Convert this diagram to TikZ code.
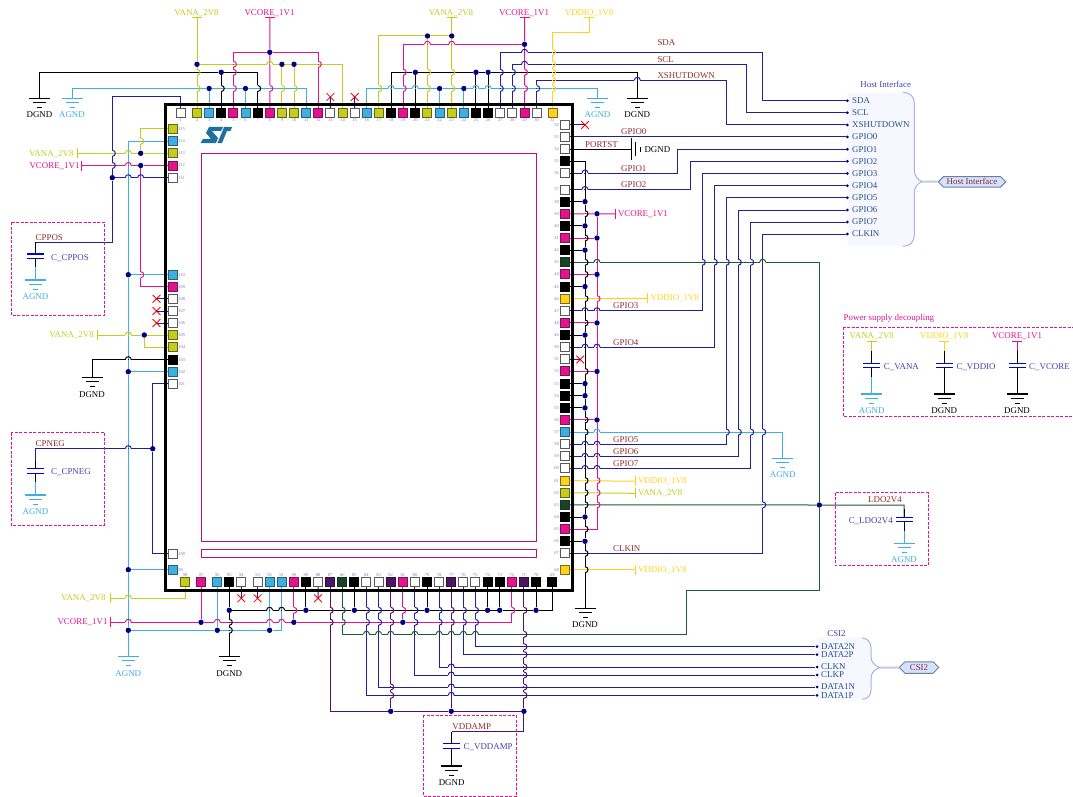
\documentclass[tikz,border=0pt]{standalone}
\usepackage{fontspec}
\setmainfont{Liberation Serif}
\usetikzlibrary{shapes.misc,shapes.symbols}
\definecolor{cvana}{HTML}{C4CC1E}
\definecolor{cvcore}{HTML}{E0148C}
\definecolor{cagnd}{HTML}{3FAEE0}
\definecolor{cvio}{HTML}{FFD21E}
\definecolor{csig}{HTML}{20209A}
\definecolor{cldo}{HTML}{1F5A32}
\definecolor{camp}{HTML}{4E1464}
\definecolor{cdot}{HTML}{000080}
\definecolor{cnet}{HTML}{942A2A}
\definecolor{chost}{HTML}{24508C}
\definecolor{cbus}{HTML}{A4B4E0}
\definecolor{chex}{HTML}{D2E2FF}
\definecolor{clogo}{HTML}{1F6F9F}
\tikzset{
  vana/.style={color=cvana,line width=1pt},
  vcore/.style={color=cvcore,line width=1pt},
  agnd/.style={color=cagnd,line width=1pt},
  dgnd/.style={color=black,line width=1pt},
  vio/.style={color=cvio,line width=1pt},
  sig/.style={color=csig,line width=1pt},
  ldo/.style={color=cldo,line width=1pt},
  amp/.style={color=camp,line width=1pt},
  lbl/.style={font=\fontsize{8.9}{10}\selectfont,inner sep=0pt},
  netl/.style={lbl,text=cnet},
  capl/.style={lbl,text=csig!85!white},
  hostl/.style={lbl,text=chost},
  pnum/.style={font=\fontsize{4.5}{5}\selectfont,text=csig!60!white,inner sep=0.4pt},
  pad/.style={rectangle,line width=1pt,minimum size=9pt,inner sep=0pt},
  padw/.style={pad,draw=gray!70!black,fill=white},
  padk/.style={pad,draw=black,fill=black},
  padm/.style={pad,draw=cvcore!60!black,fill=cvcore},
  padc/.style={pad,draw=cagnd!55!black,fill=cagnd},
  pady/.style={pad,draw=cvana!50!black,fill=cvana},
  padg/.style={pad,draw=cldo!60!black,fill=cldo!75!black},
  padp/.style={pad,draw=camp!60!black,fill=camp},
  pado/.style={pad,draw=cvio!50!black,fill=cvio},
  jdot/.style={circle,fill=cdot,inner sep=0pt,minimum size=5.4pt},
  tdot/.style={circle,fill=cdot,inner sep=0pt,minimum size=3pt},
  xmark/.style={cross out,draw=red,line width=0.8pt,minimum size=7pt,inner sep=0pt},
  dbox/.style={draw=cvcore,line width=1pt,dashed,dash pattern=on 3pt off 1.5pt},
  hexl/.style={signal,signal to=east and west,draw=cbus!70!black,line width=1pt,fill=chex,
    text=cnet,font=\fontsize{8.9}{10}\selectfont,inner sep=0pt},
  gndsym/.pic={
    \draw[line width=1.3pt] (-10.5,0) -- (10.5,0);
    \draw (-6.5,4) -- (6.5,4);
    \draw (-2.5,9) -- (2.5,9);
  },
  capsym/.pic={
    \coordinate (-t) at (0,-2.2);
    \coordinate (-b) at (0,2.2);
    \draw[color=blue!85!black,line width=1.1pt] (-8.5,-2.2) -- (8.5,-2.2);
    \draw[color=blue!85!black,line width=1.1pt] (-8.5,2.2) -- (8.5,2.2);
  },
}
\newcommand{\mkgnd}[5]{
  \coordinate (#1) at (#2,#3);
  \pic[#4] at (#1) {gndsym};
  \node[lbl,#4] (#1l) at ([yshift=-16.5pt]#1) {#5};
}
\newcommand{\tickh}[4]{
  \coordinate (#2) at (#3,#4);
  \draw[#1] ([xshift=-5pt]#2) -- ([xshift=5pt]#2);
}
\newcommand{\tickv}[4]{
  \coordinate (#2) at (#3,#4);
  \draw[#1] ([yshift=-5pt]#2) -- ([yshift=5pt]#2);
}
\newcommand{\hoph}[2]{\foreach \hx/\hy in {#2}{
  \begin{scope}[shift={(\hx |- \hy)}]
  \draw[white,line width=1.8pt] (-3,0) -- (-0.6,0) (0.6,0) -- (3,0);
  \draw[#1] (-3,0) .. controls (-3,-4) and (3,-4) .. (3,0);
  \end{scope}}}
\newcommand{\hopv}[2]{\foreach \hx/\hy in {#2}{
  \begin{scope}[shift={(\hx |- \hy)}]
  \draw[white,line width=1.8pt] (0,-3) -- (0,-0.6) (0,0.6) -- (0,3);
  \draw[#1] (0,-3) .. controls (4,-3) and (4,3) .. (0,3);
  \end{scope}}}
\begin{document}
\begin{tikzpicture}[x=1pt,y=-1pt]
\useasboundingbox (0,0) rectangle (1073,797);
\foreach \nm/\y in {36/36,44/44.3,52/52.3,64/64.3,72/72.3,80/80.3,88/88.5,610/610.3,622/622.3,630/630.3,634/634.3,711/711.3}
  \coordinate (l\nm) at (0,\y);
\coordinate (va) at (128.3,0);
\coordinate (vb) at (112.3,0);
\coordinate (vc) at (140.7,0);
\coordinate (rk) at (585,0);
\coordinate (rm) at (597,0);
\coordinate (v1) at (677.7,0);
\coordinate (v2) at (690,0);
\coordinate (v3) at (702.3,0);
\coordinate (v4) at (714.3,0);
\coordinate (v5) at (726.3,0);
\coordinate (v6) at (738.3,0);
\coordinate (v7) at (750.7,0);
\coordinate (vk) at (762.7,0);
\coordinate (vs2) at (746.7,0);

\foreach \n/\s in {2/pady,3/padc,4/padk,5/padm,6/padc,7/padk,8/padm,9/pady,10/pady,11/padc,12/padm,13/padw,14/pady,15/padw,16/padc,17/pady,18/padk,19/padm,20/padk,21/pady,22/padc,23/pady,24/padc,25/padk,26/padk,27/padw,28/padw,29/padm,30/padw}{
  \pgfmathsetmacro\px{197+12.13*(\n-2)}
  \node[\s,label={[pnum]below:\n}] (p\n) at (\px,113) {};
}
\node[padw,label={[pnum]below:1}] (p1) at (180.5,113) {};
\node[pado,label={[pnum]below:31}] (p31) at (552.5,113) {};
\foreach \n/\s/\py in {32/padw/125,33/padw/137,34/padw/149,35/padk/161,36/padw/173,68/pado/569.7}
  \node[\s,label={[pnum]left:\n}] (p\n) at (564.5,\py) {};
\foreach \n/\s in {37/padw,38/padk,39/padm,40/padk,41/padm,42/padk,43/padg,44/padm,45/padk,46/pado,47/padw,48/padm,49/padk,50/padw,51/padw,52/padm,53/padk,54/padk,55/padk,56/padm,57/padc,58/padw,59/padw,60/padw,61/pado,62/pady,63/padg,64/padk,65/padm,66/padk,67/padw}{
  \pgfmathsetmacro\py{189.5+12.13*(\n-37)}
  \node[\s,label={[pnum]left:\n}] (p\n) at (564.5,\py) {};
}
\foreach \n/\s in {70/padk,71/padp,72/padm,73/padk,74/padk,75/padw,76/padw,77/padp,78/padw,79/padk,80/padw,81/padm,82/padp,83/padw,84/padw,85/padk,86/padg,87/padp,88/padw,89/padk,90/padm,91/padc,92/padc}{
  \pgfmathsetmacro\px{269.6+12.11*(92-\n)}
  \node[\s,label={[pnum]above:\n}] (p\n) at (\px,582) {};
}
\foreach \n/\s/\px in {69/padk/552.3,93/padw/257.6,94/padw/241.3,95/padk/229.3,96/padc/217.3,97/padm/201,98/pady/185}
  \node[\s,label={[pnum]above:\n}] (p\n) at (\px,582) {};
\foreach \n/\s/\py in {99/padc/569.7,100/padw/553.7,101/padw/383.7,102/padc/371.7,103/padk/359.7,104/pady/347.2,105/pady/335,106/padw/323,107/padw/311,108/padw/298.8,109/padm/286.7,110/padc/274.7,111/padw/177.7,112/padm/165.5,113/pady/153.3,114/padc/141.2,115/pady/129}
  \node[\s,label={[pnum]right:\n}] (p\n) at (172.7,\py) {};

\foreach \a/\b in {p2/l64,p9/l64,p10/l64,p8/l52,p4/l72,p3/l88,p6/l88,p23/l36,p21/l36,p29/l44,p20/l72,p25/l72,p26/l72,p22/l88,p24/l88,p97/l622,p90/l622,p81/l622,p96/l630,p92/l630,p95/l610,p89/l610,p85/l610,p79/l610,p74/l610,p73/l610,p70/l610,p82/l711,p77/l711,p71/l711}
  \node[jdot] (j\a) at (\a |- \b) {};
\foreach \n in {38,40,42,45,49,53,54,55,64,66}
  \node[jdot] (k\n) at (rk |- p\n) {};
\foreach \n in {39,41,44,48,52,56}
  \node[jdot] (m\n) at (rm |- p\n) {};
\foreach \n in {110,102,99}
  \node[jdot] (c\n) at (va |- p\n) {};
\node[jdot] (c630) at (va |- l630) {};
\node[jdot] (b111) at (vb |- p111) {};
\node[jdot] (j113) at (vc |- p113) {};
\node[jdot] (j112) at (vc |- p112) {};
\node[jdot] (j105) at (144.3,335) {};
\node[jdot] (jn) at (152.7,448.7) {};
\node[jdot] (jg) at (819.3,505) {};

\fill[blue!3!white] (847.3,92.3) -- (903,92.3) .. controls (910,92.3) and (914.3,97) .. (914.3,103) -- (914.3,170) .. controls (914.3,176) and (918,180) .. (922,181.7) .. controls (918,183) and (914.3,187) .. (914.3,193) -- (914.3,235) .. controls (914.3,242) and (910,246.3) .. (903,246.3) -- (847.3,246.3) -- cycle;
\draw[cbus,line width=1pt] (903,92.3) .. controls (910,92.3) and (914.3,97) .. (914.3,103) -- (914.3,170) .. controls (914.3,176) and (918,180) .. (922,181.7) .. controls (918,183) and (914.3,187) .. (914.3,193) -- (914.3,235) .. controls (914.3,242) and (910,246.3) .. (903,246.3);
\fill[blue!3!white] (817,638) -- (862,638) .. controls (867,638) and (871,642) .. (871,648) -- (871,657) .. controls (871,662) and (875,666) .. (880,667.5) .. controls (875,669) and (871,673) .. (871,678) -- (871,690) .. controls (871,696) and (867,699.3) .. (862,699.3) -- (817,699.3) -- cycle;
\draw[cbus,line width=1pt] (862,638) .. controls (867,638) and (871,642) .. (871,648) -- (871,657) .. controls (871,662) and (875,666) .. (880,667.5) .. controls (875,669) and (871,673) .. (871,678) -- (871,690) .. controls (871,696) and (867,699.3) .. (862,699.3);
\coordinate (bth) at (922,181.7);
\coordinate (btc) at (880,667.5);
\node[hexl,minimum width=67.5pt,minimum height=10.5pt] (hhost) at (972,181.8) {Host Interface};
\node[hexl,minimum width=39.5pt,minimum height=11.5pt] (hcsi) at (919,667.5) {CSI2};
\draw[cbus!70!white,line width=2pt] (bth) -- (hhost);
\draw[cbus!70!white,line width=2pt] (btc) -- (hcsi);
\node[lbl,text=csig!85!white] (thost) at (885.7,84) {Host Interface};
\node[lbl,text=csig!85!white] (tcsi) at (836.5,634) {CSI2};
\foreach \nm/\ty/\tx in {dsda/100.7/SDA,dscl/112.7/SCL,dxsh/125/XSHUTDOWN,dg0/137/GPIO0,dg1/149.3/GPIO1,dg2/161.3/GPIO2,dg3/173.5/GPIO3,dg4/185.7/GPIO4,dg5/197.7/GPIO5,dg6/210/GPIO6,dg7/222/GPIO7,dclk/234/CLKIN}{
  \node[tdot] (\nm) at (847.3,\ty) {};
  \node[hostl,anchor=west] (\nm l) at (852,\ty) {\tx};
}
\foreach \nm/\ty/\tx in {d2n/646.7/DATA2N,d2p/654.7/DATA2P,dcn/667/CLKN,dcp/675/CLKP,d1n/687/DATA1N,d1p/695.3/DATA1P}{
  \node[tdot] (\nm) at (817,\ty) {};
  \node[hostl,anchor=west] (\nm l) at (821,\ty) {\tx};
}

\tickh{vana}{tv1}{197}{17.7}
\tickh{vcore}{tc1}{269.8}{17.7}
\tickh{vana}{tv2}{451.7}{17.7}
\tickh{vcore}{tc2}{524.5}{17.7}
\tickh{vio}{tio}{589.3}{17.7}
\tickv{vana}{tv3}{77.5}{153.3}
\tickv{vcore}{tc3}{81.7}{165.5}
\tickv{vana}{tv4}{97.5}{335}
\tickv{vana}{tv5}{110}{598}
\tickv{vcore}{tc5}{110}{622.3}
\tickv{vcore}{tc39}{615.3}{214}
\tickv{vio}{tio46}{647.7}{298.4}
\tickv{vio}{tio61}{635.7}{481.2}
\tickv{vana}{tv62}{635.7}{493.3}
\tickv{vio}{tio68}{635.7}{569.7}
\node[lbl,vana] (lv1) at (196.5,13) {VANA\_2V8};
\node[lbl,vcore] (lc1) at (269.5,13) {VCORE\_1V1};
\node[lbl,vana] (lv2) at (451,13) {VANA\_2V8};
\node[lbl,vcore] (lc2) at (524,13) {VCORE\_1V1};
\node[lbl,vio] (lio) at (589,13) {VDDIO\_1V8};
\node[lbl,vana,anchor=east] (lv3) at (74,153.7) {VANA\_2V8};
\node[lbl,vcore,anchor=east] (lc3) at (80,165.7) {VCORE\_1V1};
\node[lbl,vana,anchor=east] (lv4) at (94.3,335.5) {VANA\_2V8};
\node[lbl,vana,anchor=east] (lv5) at (106,598) {VANA\_2V8};
\node[lbl,vcore,anchor=east] (lc5) at (108,622.5) {VCORE\_1V1};
\node[lbl,vcore,anchor=west] (lc39) at (617.5,214) {VCORE\_1V1};
\node[lbl,vio,anchor=west] (lio46) at (650,298.4) {VDDIO\_1V8};
\node[lbl,vio,anchor=west] (lio61) at (637.5,481.2) {VDDIO\_1V8};
\node[lbl,vana,anchor=west] (lv62) at (637.5,493.3) {VANA\_2V8};
\node[lbl,vio,anchor=west] (lio68) at (637.5,569.7) {VDDIO\_1V8};
\foreach \nm/\tx/\tox/\toy in {nsda/SDA/657.3/43,nscl/SCL/657.3/60,nxsh/XSHUTDOWN/657.3/76,ng0/GPIO0/621/132,nport/PORTST/585/144.7,ng1/GPIO1/621/169,ng2/GPIO2/621/185,ng3/GPIO3/613/306,ng4/GPIO4/613/343,ng5/GPIO5/613/440,ng6/GPIO6/613/452,ng7/GPIO7/613/464,nclk/CLKIN/613/548.5,ncpp/CPPOS/35.5/238,ncpn/CPNEG/35.5/443.7}
  \node[netl,anchor=west] (\nm) at (\tox,\toy) {\tx};
\node[netl] (nldo) at (885,499.7) {LDO2V4};
\node[netl] (namp) at (471.7,726.5) {VDDAMP};

\mkgnd{g1}{39.5}{98.5}{dgnd}{DGND}
\mkgnd{g2}{72}{98.5}{agnd}{AGND}
\mkgnd{g3}{597.5}{98.5}{agnd}{AGND}
\mkgnd{g7}{637.3}{98.5}{dgnd}{DGND}
\mkgnd{g4}{92}{377.7}{dgnd}{DGND}
\mkgnd{g5}{128.3}{656.7}{agnd}{AGND}
\mkgnd{g6}{229.3}{656.7}{dgnd}{DGND}
\mkgnd{g8}{782.7}{458.3}{agnd}{AGND}
\mkgnd{g9}{585}{608.3}{dgnd}{DGND}
\mkgnd{gcp}{35.5}{280}{agnd}{AGND}
\mkgnd{gcn}{35.5}{495}{agnd}{AGND}
\mkgnd{gamp}{451.6}{766}{dgnd}{DGND}
\mkgnd{gldo}{904}{543.3}{agnd}{AGND}
\mkgnd{gcv}{871.7}{394}{agnd}{AGND}
\mkgnd{gci}{944.3}{394}{dgnd}{DGND}
\mkgnd{gcc}{1017}{394}{dgnd}{DGND}
\coordinate (g10) at (631.5,149);
\pic[dgnd,rotate=90] at (g10) {gndsym};
\node[lbl,dgnd,anchor=west] (g10l) at (644,149.5) {DGND};

\pic (ccp) at (35.5,256.2) {capsym};
\pic (ccn) at (35.5,470.9) {capsym};
\pic (cam) at (451.6,746) {capsym};
\pic (cld) at (904,519.5) {capsym};
\pic (ccv) at (871.7,365.5) {capsym};
\pic (cci) at (944.3,365.5) {capsym};
\pic (ccc) at (1017,365.5) {capsym};
\node[capl,anchor=west] (tccp) at (51,258) {C\_CPPOS};
\node[capl,anchor=west] (tccn) at (51,471.7) {C\_CPNEG};
\node[capl,anchor=west] (tcam) at (463.5,746.7) {C\_VDDAMP};
\node[capl,anchor=east] (tcld) at (893,521) {C\_LDO2V4};
\node[capl,anchor=west] (tccv) at (883.7,366.7) {C\_VANA};
\node[capl,anchor=west] (tcci) at (956.3,366.7) {C\_VDDIO};
\node[capl,anchor=west] (tccc) at (1029,366.7) {C\_VCORE};
\tickh{vana}{tcv}{871.7}{341}
\tickh{vio}{tci}{944.3}{341}
\tickh{vcore}{tcc}{1017}{341}
\node[lbl,vana] (lcv) at (871.7,336) {VANA\_2V8};
\node[lbl,vio] (lci) at (944.3,336) {VDDIO\_1V8};
\node[lbl,vcore] (lcc) at (1017,336) {VCORE\_1V1};
\node[lbl,text=cvcore,anchor=west] (tdec) at (843.5,318) {Power supply decoupling};

\draw[vana] (tv1) -- (jp2) -- (p2);
\draw[vana] (jp2) -- (jp9) -- (jp10) -| (p14);
\draw[vana] (jp9) -- (p9);
\draw[vana] (jp10) -- (p10);
\draw[vcore] (tc1) -- (jp8) -- (p8);
\draw[vcore] (p5) |- (jp8);
\draw[vcore] (p12) |- (jp8);
\draw[dgnd] (g1) |- (jp4);
\draw[dgnd] (jp4) -| (p7);
\draw[dgnd] (jp4) -- (p4);
\draw[agnd] (g2) |- (jp3);
\draw[agnd] (jp3) -- (jp6) -| (p11);
\draw[agnd] (jp3) -- (p3);
\draw[agnd] (jp6) -- (p6);
\coordinate (c1) at (112.3,96.7);
\coordinate (c2) at (35.5,242.3);
\draw[sig] (p1) |- (c1) -- (b111);
\draw[sig] (b111) -- (p111);
\draw[sig] (b111) |- (c2);
\draw[dgnd] (c2) -- (ccp-t);

\draw[vana] (tv2) -- (jp23) -- (p23);
\draw[vana] (jp23) -- (jp21) -- (p21);
\draw[vana] (jp21) -| (p17);
\draw[vcore] (tc2) -- (jp29) -- (p29);
\draw[vcore] (jp29) -| (p19);
\draw[dgnd] (p18) |- (jp20);
\draw[dgnd] (jp20) -- (jp25) -- (jp26) -| (g7);
\draw[dgnd] (jp20) -- (p20);
\draw[dgnd] (jp25) -- (p25);
\draw[dgnd] (jp26) -- (p26);
\draw[agnd] (p16) |- (jp22);
\draw[agnd] (jp22) -- (jp24) -| (g3);
\draw[agnd] (jp22) -- (p22);
\draw[agnd] (jp24) -- (p24);
\foreach \p/\v/\l/\d in {p27/vk/l52/dsda,p28/vs2/l64/dscl,p30/v5/l80/dxsh}
  \draw[sig] (\p) |- (\v |- \l) |- (\d);
\coordinate (c7) at (552.5,32.3);
\draw[vio] (p31) -- (c7) -| (tio);

\draw[sig] (p33) -- (dg0);
\foreach \p/\v/\d in {p36/v1/dg1,p37/v2/dg2,p47/v3/dg3,p50/v4/dg4,p58/v5/dg5,p59/v6/dg6,p60/v7/dg7,p67/vk/dclk}
  \draw[sig] (\p) -| (\v |- \d) -- (\d);
\draw[dgnd] (p34) -- (g10);
\node[xmark] (x32) at (585,125) {};
\draw[sig] (p32) -- (x32.center);
\node[xmark] (x51) at (580.3,359.5) {};
\draw[sig] (p51) -- (x51.center);
\node[xmark] (x13) at (330.4,97) {};
\draw[sig] (p13) -- (x13.center);
\node[xmark] (x15) at (354.7,97) {};
\draw[sig] (p15) -- (x15.center);
\foreach \n/\py in {108/298.8,107/311,106/323}{
  \node[xmark] (x\n) at (156.5,\py) {};
  \draw[sig] (p\n) -- (x\n.center);
}
\foreach \n/\px in {94/241.3,93/257.6,88/318}{
  \node[xmark] (x\n) at (\px,598.3) {};
  \draw[sig] (p\n) -- (x\n.center);
}

\draw[dgnd] (p35) -| (k38);
\draw[dgnd] (k38) -- (k40) -- (k42) -- (k45) -- (k49) -- (k53) -- (k54) -- (k55) -- (k64) -- (k66) -- (g9);
\foreach \n in {38,40,42,45,49,53,54,55,64,66}
  \draw[dgnd] (p\n) -- (k\n);
\draw[vcore] (p39) -- (m39) -- (tc39);
\draw[vcore] (m39) -- (m41) -- (m44) -- (m48) -- (m52) -- (m56) |- (p65);
\foreach \n in {41,44,48,52,56}
  \draw[vcore] (p\n) -- (m\n);
\draw[vio] (p46) -- (tio46);
\draw[vio] (p61) -- (tio61);
\draw[vana] (p62) -- (tv62);
\draw[vio] (p68) -- (tio68);
\draw[agnd] (p57) -| (g8);

\coordinate (c3) at (686,634.3);
\coordinate (c4) at (819.3,590);
\draw[ldo] (p86) |- (c3) |- (c4) -- (jg);
\draw[ldo] (p43) -| (jg);
\draw[ldo] (p63) -- (jg) -| (cld-t);

\draw[agnd] (p114) -| (c110);
\draw[agnd] (c110) -- (c102) -- (c99) -- (c630) -- (g5);
\draw[agnd] (c110) -- (p110);
\draw[agnd] (c102) -- (p102);
\draw[agnd] (c99) -- (p99);
\draw[vana] (tv3) -- (j113) -- (p113);
\draw[vana] (j113) |- (p115);
\draw[vcore] (tc3) -- (j112) -- (p112);
\draw[vcore] (j112) |- (p109);
\draw[vana] (tv4) -- (j105) -- (p105);
\draw[vana] (j105) |- (p104);
\draw[dgnd] (p103) -| (g4);
\draw[sig] (p101) -| (jn);
\draw[sig] (jn) |- (p100);
\draw[sig] (jn) -| (ccn-t);

\draw[vana] (tv5) -| (p98);
\draw[vcore] (tc5) -- (jp97) -- (jp90) -- (jp81) -| (p72);
\draw[vcore] (jp97) -- (p97);
\draw[vcore] (jp90) -- (p90);
\draw[vcore] (jp81) -- (p81);
\draw[agnd] (c630) -- (jp96) -- (jp92) -| (p91);
\draw[agnd] (jp96) -- (p96);
\draw[agnd] (jp92) -- (p92);
\draw[dgnd] (p95) -- (jp95) -- (g6);
\draw[dgnd] (jp95) -- (jp89) -- (jp85) -- (jp79) -- (jp74) -- (jp73) -- (jp70) -| (p69);
\foreach \n in {89,85,79,74,73,70}
  \draw[dgnd] (p\n) -- (jp\n);
\foreach \p/\d in {p75/d2n,p76/d2p,p78/dcn,p80/dcp,p83/d1n,p84/d1p}
  \draw[sig] (\p) |- (\d);
\coordinate (c6) at (451.6,731.7);
\draw[amp] (p87) |- (jp82);
\draw[amp] (jp82) -- (jp77) -- (jp71);
\draw[amp] (p82) -- (jp82);
\draw[amp] (p77) -- (jp77);
\draw[amp] (p71) -- (jp71);
\draw[amp] (jp71) |- (c6);
\draw[dgnd] (c6) -- (cam-t);

\foreach \s/\g in {ccp/gcp,ccn/gcn,cld/gldo,ccv/gcv}
  \draw[agnd] (\s-b) -- (\g);
\foreach \s/\g in {cam/gamp,cci/gci,ccc/gcc}
  \draw[dgnd] (\s-b) -- (\g);
\foreach \s in {ccp,ccn,cld,ccv}
  \draw[dgnd] (\s-b) -- ++(0,9);
\draw[dgnd] (ccn-t) -- ++(0,-8);
\draw[dgnd] (cld-t) -- ++(0,-8);
\draw[vana] (tcv) -- (ccv-t);
\draw[vio] (tci) -- (cci-t);
\draw[vcore] (tcc) -- (ccc-t);
\foreach \s in {ccv,cci,ccc}
  \draw[dgnd] (\s-t) -- ++(0,-12);

\hopv{vcore}{p5/l64,p5/l72,p5/l88,p12/l64,p8/l88,p19/l72,p19/l88,p29/l72,p29/l88,vc/p110,rm/p46,rm/p61,rm/p62,rm/p63,p72/l610,p81/l610,p90/l610}
\hopv{vana}{p2/l72,p2/l88,p9/l88,p10/l88,p17/l88,p21/l72,p21/l88,p23/l72,p23/l88,vc/p114}
\hopv{dgnd}{p4/l88,p7/l88,rk/p39,rk/p41,rk/p43,rk/p44,rk/p46,rk/p48,rk/p52,rk/p56,rk/p57,rk/p61,rk/p62,rk/p63,rk/p65,rk/p67,rk/p68,p95/l622,p95/l630}
\hopv{sig}{p27/l72,p27/l88,p28/l72,p28/l88,p30/l88,vb/p113,vb/p112,v3/p43,v4/p43,v5/p43,v6/p43,v7/p43,v5/p57,v6/p57,v7/p57,vk/p57,vk/p63,p84/l610,p83/l610,p80/l610,p78/l610,p76/l610,p75/l610,p84/l622,p83/l622,p80/l622,p78/l622,p76/l622,p75/l622}
\hopv{vio}{p31/l52,p31/l64,p31/l72,p31/l80,p31/l88}
\hopv{amp}{p87/l610,p82/l610,p77/l610,p71/l610,p87/l622,p82/l622,p77/l622,p71/l634,p71/d2n,p71/d2p,p71/dcn,p71/dcp,p71/d1n,p71/d1p,p82/d1n,p82/d1p}
\hopv{ldo}{p86/l610,p86/l622}
\hoph{vana}{p8/l64,va/p113,va/tv4,va/tv5}
\hoph{vcore}{p21/l44,p23/l44,va/p112,va/tc5,p96/l622,p92/l622,p91/l622}
\hoph{agnd}{p18/l88,p20/l88,p25/l88,p26/l88,rm/p57}
\hoph{dgnd}{va/p103,p92/l610,p91/l610}
\hoph{sig}{p29/l52,p29/l64,g7/l80,va/p111,vc/p111,va/jn,rk/p36,rk/p37,rk/p47,rk/p50,rk/p58,rk/p59,rk/p60,rm/p47,rm/p50,rm/p58,rm/p59,rm/p60,p77/dcn,p77/dcp,p77/d1n,p77/d1p}
\hoph{ldo}{rm/p43,vk/p43,p84/l634,p83/l634,p82/l634,p80/l634,p78/l634,p77/l634,p76/l634,p75/l634}

\draw[black,line width=3pt] (165,105) rectangle (572.7,590);
\draw[cvcore!85!black,line width=1pt] (201,153.5) rectangle (536.5,541.7);
\draw[cvcore!85!black,line width=1pt] (201,549.5) rectangle (536.5,557.5);
\fill[clogo] (209,127) -- (223,127) -- (221,131) -- (212,131) -- (218,138) -- (216,143) -- (200.5,143) -- (203,139) -- (211,139) -- (206,133) -- cycle;
\fill[clogo] (224,127) -- (232,127) -- (230.5,131) -- (227,131) -- (222,143) -- (217.5,143) -- (222.5,131) -- cycle;
\draw[dbox] (11.3,222) rectangle (104.3,315.3);
\draw[dbox] (11.3,432.7) rectangle (104.3,525.3);
\draw[dbox] (423.3,715.3) rectangle (516.8,796);
\draw[dbox] (835.3,492.7) rectangle (928.3,565.7);
\draw[dbox] (843.3,327.3) rectangle (1075,416.3);
\end{tikzpicture}
\end{document}
